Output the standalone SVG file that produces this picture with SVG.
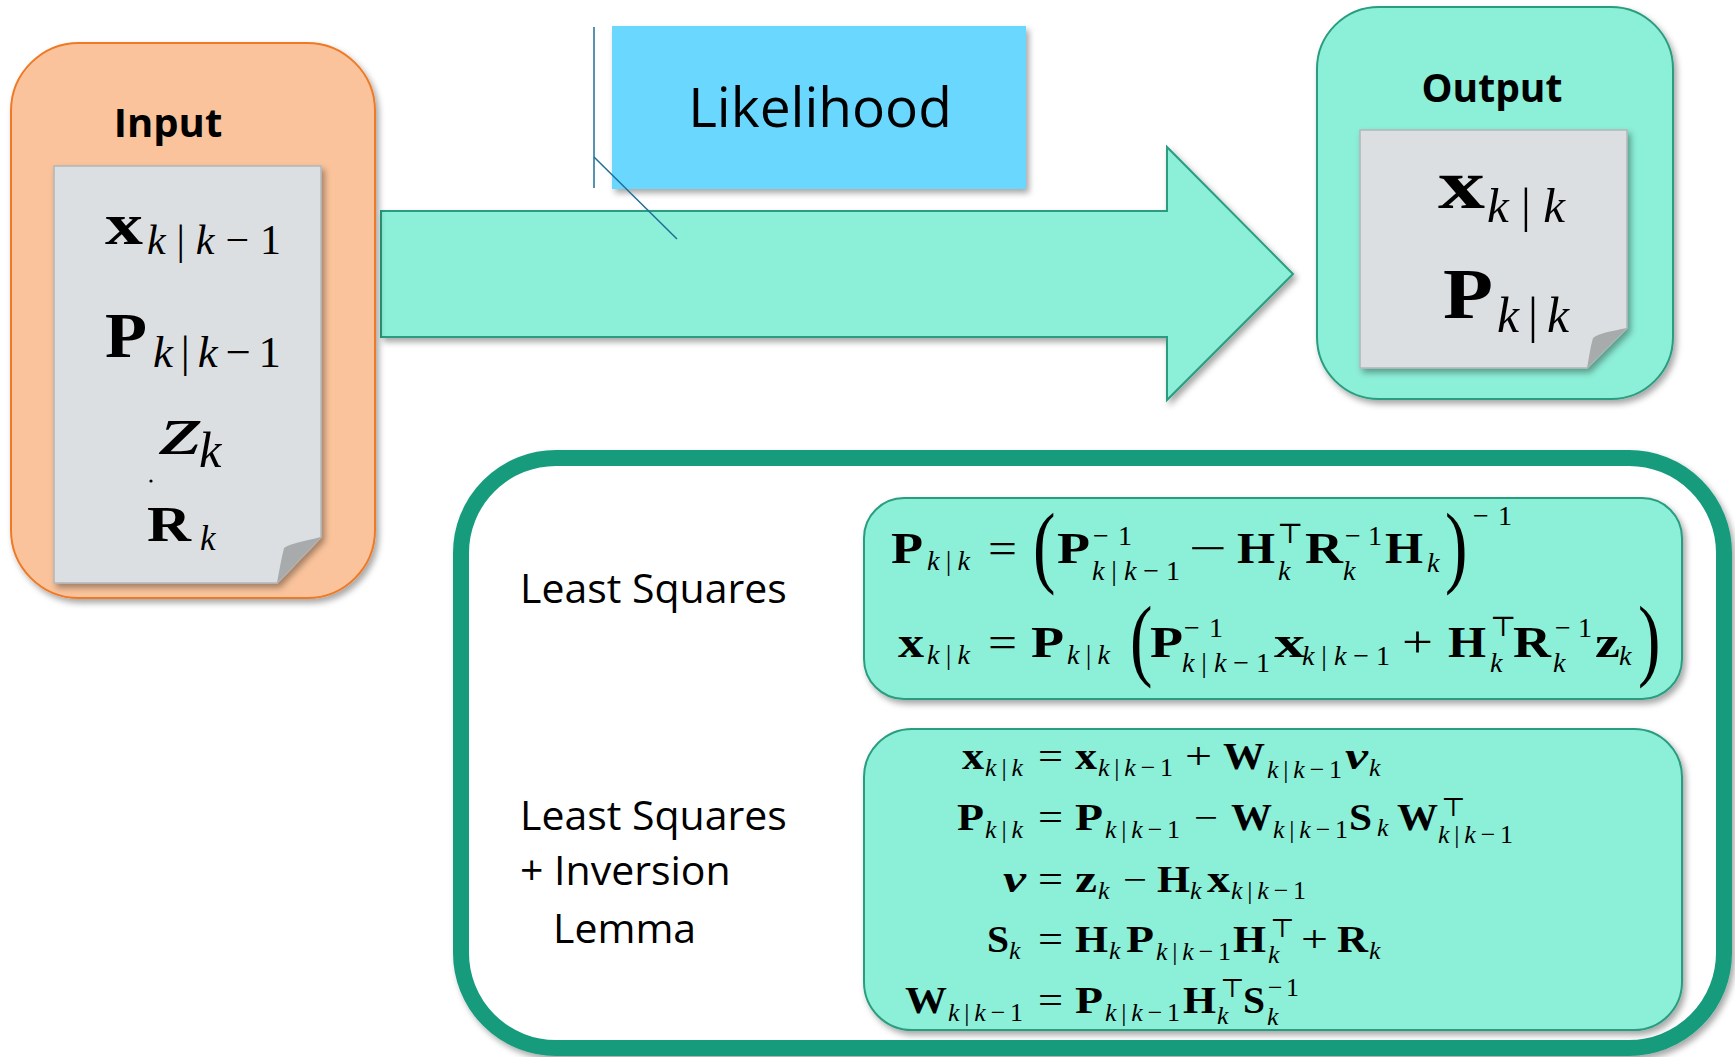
<svg xmlns="http://www.w3.org/2000/svg" width="1735" height="1057" viewBox="0 0 1735 1057">
<defs>
<filter id="sh" x="-10%" y="-10%" width="130%" height="130%">
<feDropShadow dx="3" dy="4" stdDeviation="3" flood-color="#000" flood-opacity="0.35"/>
</filter>
<style>
.lbl{font-family:"Open Sans","Liberation Sans",sans-serif;fill:#000}
.m{font-family:"Liberation Serif","DejaVu Serif",serif;fill:#000}
.b{font-weight:bold}
.sub{font-size:70%;font-style:italic;font-weight:normal}
.sup{font-size:70%;font-weight:normal}
.u .sub,.u .sup{font-size:28px}
.n{font-style:normal}
.paper{fill:#DCDFE1;stroke:#B3B6B8;stroke-width:1.5}
.fold{fill:#A8ABAC}
.teal{fill:#8CEFD7;stroke:#2A9D80;stroke-width:2}
</style>
</defs>
<rect width="1735" height="1057" fill="#fff"/>

<g id="connectors">
<polygon class="teal" filter="url(#sh)" points="381,211 1167,211 1167,147 1293,274 1167,400 1167,337 381,337"/>
</g>

<g id="input">
<rect x="11" y="43" width="364" height="555" rx="68" fill="#FAC39B" stroke="#EE7A26" stroke-width="2" filter="url(#sh)"/>
<text class="lbl b" x="168" y="137" font-size="40" text-anchor="middle">Input</text>
<path class="paper" filter="url(#sh)" d="M54,166 H321 V537 L277,583 H54 Z"/>
<path class="fold" d="M321,537 C305,541 291,543 284,548 C281,560 279,572 277,583 Z"/>
<text class="m" font-size="60"><tspan class="b" x="105" y="244" textLength="38" lengthAdjust="spacingAndGlyphs">x</tspan><tspan class="sub" font-size="41" x="147" y="254" textLength="134">k<tspan class="n">|</tspan>k<tspan class="n">−1</tspan></tspan></text>
<text class="m" font-size="64"><tspan class="b" x="105" y="357" textLength="42" lengthAdjust="spacingAndGlyphs">P</tspan><tspan class="sub" font-size="41" x="153" y="367" textLength="128">k<tspan class="n">|</tspan>k<tspan class="n">−1</tspan></tspan></text>
<text class="m" font-size="72"><tspan font-style="italic" x="160" y="454" textLength="42" lengthAdjust="spacingAndGlyphs">z</tspan><tspan class="sub" font-size="48" x="199" y="467">k</tspan></text>
<circle cx="151" cy="481" r="1.6" fill="#000"/>
<text class="m" font-size="50"><tspan class="b" x="147" y="541" textLength="44" lengthAdjust="spacingAndGlyphs">R</tspan><tspan class="sub" font-size="41" x="200" y="550">k</tspan></text>
</g>

<g id="likelihood">
<rect x="612" y="26" width="414" height="163" fill="#6BD8FE" filter="url(#sh)"/>
<text class="lbl" x="820" y="127" font-size="55" text-anchor="middle">Likelihood</text>
<line x1="594" y1="27" x2="594" y2="188" stroke="#1F6E98" stroke-width="1.5"/>
<line x1="594" y1="157" x2="677" y2="239" stroke="#1F6E98" stroke-width="1.5"/>
</g>

<g id="output">
<rect class="teal" x="1317" y="7" width="356" height="392" rx="62" filter="url(#sh)"/>
<text class="lbl b" x="1492" y="102" font-size="39" text-anchor="middle">Output</text>
<path class="paper" filter="url(#sh)" d="M1360,130 H1627 V328 L1587,368 H1360 Z"/>
<path class="fold" d="M1627,328 C1612,331 1599,333 1593,338 C1590,348 1589,358 1587,368 Z"/>
<text class="m" font-size="70"><tspan class="b" x="1438" y="208" textLength="47" lengthAdjust="spacingAndGlyphs">x</tspan><tspan class="sub" font-size="44" x="1487" y="222" textLength="78">k<tspan class="n">|</tspan>k</tspan></text>
<text class="m" font-size="71"><tspan class="b" x="1443" y="318" textLength="50" lengthAdjust="spacingAndGlyphs">P</tspan><tspan class="sub" font-size="46" x="1497" y="332" textLength="72">k<tspan class="n">|</tspan>k</tspan></text>
</g>

<g id="methods">
<rect x="461" y="458" width="1263" height="590" rx="95" fill="#fff" stroke="#179C7D" stroke-width="16" filter="url(#sh)"/>
<text class="lbl" x="520" y="603" font-size="41">Least Squares</text>
<text class="lbl" font-size="41"><tspan x="520" y="830">Least Squares</tspan><tspan x="520" y="885">+ Inversion</tspan><tspan x="553" y="943">Lemma</tspan></text>
</g>

<g id="eq-ls">
<rect class="teal" x="864" y="498" width="818" height="201" rx="40" filter="url(#sh)"/>
<text class="m u" font-size="44">
<tspan class="b" x="891" y="563" textLength="32" lengthAdjust="spacingAndGlyphs">P</tspan><tspan class="sub" x="927" y="570" textLength="43">k<tspan class="n">|</tspan>k</tspan>
<tspan x="988" y="563" textLength="29" lengthAdjust="spacingAndGlyphs">=</tspan>
<tspan class="b" x="1057" y="563" textLength="33" lengthAdjust="spacingAndGlyphs">P</tspan><tspan class="sup" x="1093" y="545" textLength="39">−1</tspan><tspan class="sub" x="1092" y="580" textLength="88">k<tspan class="n">|</tspan>k<tspan class="n">−1</tspan></tspan>
<tspan x="1189" y="563" textLength="38" lengthAdjust="spacingAndGlyphs">−</tspan>
<tspan class="b" x="1237" y="563" textLength="38" lengthAdjust="spacingAndGlyphs">H</tspan><tspan class="sup" x="1277" y="543">⊤</tspan><tspan class="sub" x="1278" y="580">k</tspan>
<tspan class="b" x="1305" y="563" textLength="38" lengthAdjust="spacingAndGlyphs">R</tspan><tspan class="sup" x="1345" y="545" textLength="37">−1</tspan><tspan class="sub" x="1343" y="580">k</tspan>
<tspan class="b" x="1385" y="563" textLength="38" lengthAdjust="spacingAndGlyphs">H</tspan><tspan class="sub" x="1427" y="572">k</tspan>
<tspan class="sup" x="1473" y="525" textLength="39">−1</tspan>
</text>
<text class="m" font-size="90" transform="translate(1033,576) scale(0.75,1)">(</text>
<text class="m" font-size="90" transform="translate(1445,576) scale(0.75,1)">)</text>
<text class="m u" font-size="44">
<tspan class="b" x="898" y="657" textLength="26" lengthAdjust="spacingAndGlyphs">x</tspan><tspan class="sub" x="927" y="664" textLength="43">k<tspan class="n">|</tspan>k</tspan>
<tspan x="988" y="657" textLength="29" lengthAdjust="spacingAndGlyphs">=</tspan>
<tspan class="b" x="1031" y="657" textLength="33" lengthAdjust="spacingAndGlyphs">P</tspan><tspan class="sub" x="1067" y="664" textLength="43">k<tspan class="n">|</tspan>k</tspan>
<tspan class="b" x="1150" y="657" textLength="33" lengthAdjust="spacingAndGlyphs">P</tspan><tspan class="sup" x="1184" y="637" textLength="39">−1</tspan><tspan class="sub" x="1182" y="672" textLength="88">k<tspan class="n">|</tspan>k<tspan class="n">−1</tspan></tspan>
<tspan class="b" x="1274" y="657" textLength="31" lengthAdjust="spacingAndGlyphs">x</tspan><tspan class="sub" x="1302" y="665" textLength="88">k<tspan class="n">|</tspan>k<tspan class="n">−1</tspan></tspan>
<tspan x="1402" y="657" textLength="31" lengthAdjust="spacingAndGlyphs">+</tspan>
<tspan class="b" x="1448" y="657" textLength="38" lengthAdjust="spacingAndGlyphs">H</tspan><tspan class="sup" x="1490" y="636">⊤</tspan><tspan class="sub" x="1490" y="672">k</tspan>
<tspan class="b" x="1513" y="657" textLength="38" lengthAdjust="spacingAndGlyphs">R</tspan><tspan class="sup" x="1555" y="637" textLength="37">−1</tspan><tspan class="sub" x="1553" y="672">k</tspan>
<tspan class="b" x="1595" y="657" textLength="25" lengthAdjust="spacingAndGlyphs">z</tspan><tspan class="sub" x="1619" y="665">k</tspan>
</text>
<text class="m" font-size="90" transform="translate(1130,669) scale(0.75,1)">(</text>
<text class="m" font-size="90" transform="translate(1638,669) scale(0.75,1)">)</text>
</g>

<g id="eq-lsil">
<rect class="teal" x="864" y="729" width="818" height="301" rx="48" filter="url(#sh)"/>
<text class="m" font-size="37">
<tspan class="b" x="962" y="769" textLength="22" lengthAdjust="spacingAndGlyphs">x</tspan><tspan class="sub" x="985" y="776" textLength="38">k<tspan class="n">|</tspan>k</tspan>
<tspan x="1038" y="769" textLength="25" lengthAdjust="spacingAndGlyphs">=</tspan>
<tspan class="b" x="1075" y="769" textLength="22" lengthAdjust="spacingAndGlyphs">x</tspan><tspan class="sub" x="1098" y="776" textLength="75">k<tspan class="n">|</tspan>k<tspan class="n">−1</tspan></tspan>
<tspan x="1185" y="769" textLength="27" lengthAdjust="spacingAndGlyphs">+</tspan>
<tspan class="b" x="1223" y="769" textLength="42" lengthAdjust="spacingAndGlyphs">W</tspan><tspan class="sub" x="1267" y="778" textLength="75">k<tspan class="n">|</tspan>k<tspan class="n">−1</tspan></tspan>
<tspan class="b" font-style="italic" x="1345" y="769" textLength="23" lengthAdjust="spacingAndGlyphs">ν</tspan><tspan class="sub" x="1369" y="776">k</tspan>
</text>
<text class="m" font-size="37">
<tspan class="b" x="957" y="830" textLength="27" lengthAdjust="spacingAndGlyphs">P</tspan><tspan class="sub" x="985" y="838" textLength="38">k<tspan class="n">|</tspan>k</tspan>
<tspan x="1038" y="830" textLength="25" lengthAdjust="spacingAndGlyphs">=</tspan>
<tspan class="b" x="1075" y="830" textLength="28" lengthAdjust="spacingAndGlyphs">P</tspan><tspan class="sub" x="1105" y="838" textLength="75">k<tspan class="n">|</tspan>k<tspan class="n">−1</tspan></tspan>
<tspan x="1194" y="830" textLength="24" lengthAdjust="spacingAndGlyphs">−</tspan>
<tspan class="b" x="1231" y="830" textLength="41" lengthAdjust="spacingAndGlyphs">W</tspan><tspan class="sub" x="1273" y="838" textLength="75">k<tspan class="n">|</tspan>k<tspan class="n">−1</tspan></tspan>
<tspan class="b" x="1349" y="830" textLength="23" lengthAdjust="spacingAndGlyphs">S</tspan><tspan class="sub" x="1377" y="836">k</tspan>
<tspan class="b" x="1397" y="830" textLength="41" lengthAdjust="spacingAndGlyphs">W</tspan><tspan class="sup" x="1441" y="816">⊤</tspan><tspan class="sub" x="1438" y="843" textLength="75">k<tspan class="n">|</tspan>k<tspan class="n">−1</tspan></tspan>
</text>
<text class="m" font-size="37">
<tspan class="b" font-style="italic" x="1003" y="892" textLength="23" lengthAdjust="spacingAndGlyphs">ν</tspan>
<tspan x="1038" y="892" textLength="25" lengthAdjust="spacingAndGlyphs">=</tspan>
<tspan class="b" x="1075" y="892" textLength="22" lengthAdjust="spacingAndGlyphs">z</tspan><tspan class="sub" x="1098" y="899">k</tspan>
<tspan x="1123" y="892" textLength="24" lengthAdjust="spacingAndGlyphs">−</tspan>
<tspan class="b" x="1157" y="892" textLength="33" lengthAdjust="spacingAndGlyphs">H</tspan><tspan class="sub" x="1190" y="899">k</tspan>
<tspan class="b" x="1207" y="892" textLength="23" lengthAdjust="spacingAndGlyphs">x</tspan><tspan class="sub" x="1231" y="899" textLength="75">k<tspan class="n">|</tspan>k<tspan class="n">−1</tspan></tspan>
</text>
<text class="m" font-size="37">
<tspan class="b" x="987" y="952" textLength="22" lengthAdjust="spacingAndGlyphs">S</tspan><tspan class="sub" x="1009" y="959">k</tspan>
<tspan x="1038" y="952" textLength="25" lengthAdjust="spacingAndGlyphs">=</tspan>
<tspan class="b" x="1075" y="952" textLength="33" lengthAdjust="spacingAndGlyphs">H</tspan><tspan class="sub" x="1109" y="959">k</tspan>
<tspan class="b" x="1126" y="952" textLength="28" lengthAdjust="spacingAndGlyphs">P</tspan><tspan class="sub" x="1156" y="960" textLength="75">k<tspan class="n">|</tspan>k<tspan class="n">−1</tspan></tspan>
<tspan class="b" x="1233" y="952" textLength="33" lengthAdjust="spacingAndGlyphs">H</tspan><tspan class="sup" x="1270" y="937">⊤</tspan><tspan class="sub" x="1268" y="963">k</tspan>
<tspan x="1301" y="952" textLength="27" lengthAdjust="spacingAndGlyphs">+</tspan>
<tspan class="b" x="1337" y="952" textLength="31" lengthAdjust="spacingAndGlyphs">R</tspan><tspan class="sub" x="1369" y="959">k</tspan>
</text>
<text class="m" font-size="37">
<tspan class="b" x="905" y="1013" textLength="42" lengthAdjust="spacingAndGlyphs">W</tspan><tspan class="sub" x="948" y="1021" textLength="75">k<tspan class="n">|</tspan>k<tspan class="n">−1</tspan></tspan>
<tspan x="1038" y="1013" textLength="25" lengthAdjust="spacingAndGlyphs">=</tspan>
<tspan class="b" x="1075" y="1013" textLength="28" lengthAdjust="spacingAndGlyphs">P</tspan><tspan class="sub" x="1105" y="1021" textLength="75">k<tspan class="n">|</tspan>k<tspan class="n">−1</tspan></tspan>
<tspan class="b" x="1183" y="1013" textLength="33" lengthAdjust="spacingAndGlyphs">H</tspan><tspan class="sup" x="1220" y="997">⊤</tspan><tspan class="sub" x="1217" y="1024">k</tspan>
<tspan class="b" x="1243" y="1013" textLength="22" lengthAdjust="spacingAndGlyphs">S</tspan><tspan class="sup" x="1268" y="996" textLength="31">−1</tspan><tspan class="sub" x="1267" y="1025">k</tspan>
</text>
</g>
</svg>
